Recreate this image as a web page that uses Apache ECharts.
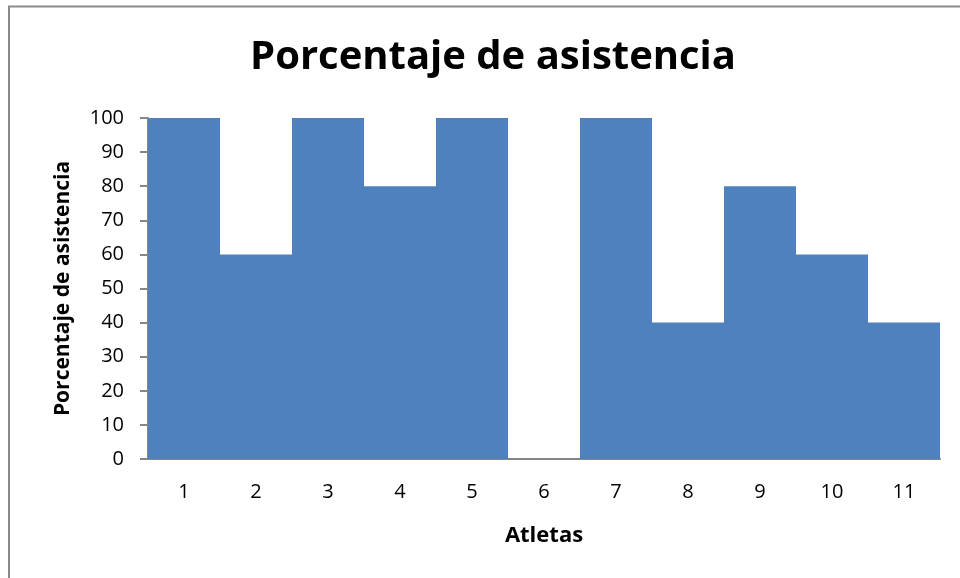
<!DOCTYPE html>
<html>
<head>
<meta charset="utf-8">
<script src="https://cdn.jsdelivr.net/npm/echarts@6/dist/echarts.min.js"></script>
<style>
html, body { margin: 0; padding: 0; background: #fff; }
#chart { width: 960px; height: 578px; }
</style>
</head>
<body>
<div id="chart"></div>
<script>
var atletas = ['1', '2', '3', '4', '5', '6', '7', '8', '9', '10', '11'];
var asistencia = [100, 60, 100, 80, 100, 0, 100, 40, 80, 60, 40];

var font = '"Open Sans", "Noto Sans", sans-serif';
var chart = echarts.init(document.getElementById('chart'));
var option = {
	animation: false,
	textStyle: { fontFamily: font },
	graphic: [{
		type: 'polyline',
		shape: { points: [[9, 600], [9, 6.5], [980, 6.5]] },
		style: { stroke: '#8a8a8a', lineWidth: 2, fill: null }
	}],
	title: {
		text: 'Porcentaje de asistencia',
		left: 488,
		textAlign: 'center',
		top: 33,
		textStyle: { fontFamily: font, fontSize: 40, fontWeight: 'bold', color: '#000' }
	},
	grid: { left: 148, right: 20, top: 118, bottom: 119 },
	xAxis: {
		type: 'category',
		data: atletas,
		name: 'Atletas',
		nameLocation: 'middle',
		nameGap: 66,
		nameTextStyle: { fontFamily: font, fontSize: 22, fontWeight: 'bold', color: '#000' },
		axisLine: { lineStyle: { color: '#868686', width: 2 } },
		axisTick: { show: false },
		axisLabel: { margin: 23, fontSize: 20, color: '#000', fontFamily: font }
	},
	yAxis: {
		type: 'value',
		min: 0,
		max: 100,
		interval: 10,
		name: 'Porcentaje de asistencia',
		nameLocation: 'middle',
		nameGap: 74,
		nameTextStyle: { fontFamily: font, fontSize: 21, fontWeight: 'bold', color: '#000' },
		splitLine: { show: false },
		axisLine: { show: true, lineStyle: { color: '#868686', width: 2 } },
		axisTick: { show: true, length: 8, lineStyle: { color: '#868686', width: 2 } },
		axisLabel: { margin: 24, fontSize: 20, color: '#000', fontFamily: font }
	},
	series: [{
		type: 'bar',
		data: asistencia,
		barCategoryGap: '0%',
		itemStyle: { color: '#4F81BD' }
	}]
};
chart.setOption(option);
</script>
</body>
</html>
